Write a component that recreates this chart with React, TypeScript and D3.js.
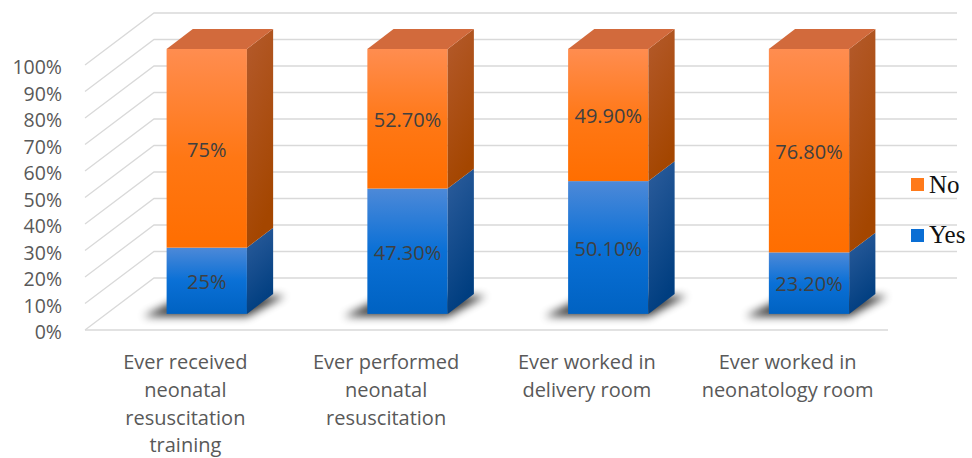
import React from "react";
import * as d3 from "d3";

const categories = [
  ["Ever received", "neonatal", "resuscitation", "training"],
  ["Ever performed", "neonatal", "resuscitation"],
  ["Ever worked in", "delivery room"],
  ["Ever worked in", "neonatology room"],
];
const yesValues = [0.25, 0.473, 0.501, 0.232];
const noValues = [0.75, 0.527, 0.499, 0.768];
const yesLabels = ["25%", "47.30%", "50.10%", "23.20%"];
const noLabels = ["75%", "52.70%", "49.90%", "76.80%"];
const yTicks = [0, 0.1, 0.2, 0.3, 0.4, 0.5, 0.6, 0.7, 0.8, 0.9, 1];
const seriesNames = ["No", "Yes"];

const W = 972;
const H = 458;
const DX = 69;
const DY = -52;
const D0 = 0.31;
const D1 = 0.69;

export default function App() {
  const x = d3
    .scaleBand<number>()
    .domain(d3.range(categories.length))
    .range([85, 888])
    .paddingInner(0.6)
    .paddingOuter(0.3);
  const y = d3.scaleLinear().domain([0, 1]).range([330, 65]);
  const bw = x.bandwidth();
  const P = (px: number, v: number, d: number): [number, number] => [px + d * DX, y(v) + d * DY];
  const poly = (pts: [number, number][]) => pts.map((p) => p.join(",")).join(" ");
  const pct = d3.format(".0%");
  const font = "'Open Sans', sans-serif";

  return (
    <svg width={W} height={H} style={{ display: "block", position: "absolute", left: 0, top: 0 }}>
      <defs>
        <linearGradient id="oFront" x1="0" y1="0" x2="0" y2="1">
          <stop offset="0" stopColor="#FF8D50" />
          <stop offset="0.55" stopColor="#FF7714" />
          <stop offset="1" stopColor="#FF6E00" />
        </linearGradient>
        <linearGradient id="bFront" x1="0" y1="0" x2="0" y2="1">
          <stop offset="0" stopColor="#4D89D8" />
          <stop offset="0.5" stopColor="#0A70D6" />
          <stop offset="1" stopColor="#0062C2" />
        </linearGradient>
        <linearGradient id="oSide" x1="0" y1="0" x2="0.3" y2="1">
          <stop offset="0" stopColor="#B45A2C" />
          <stop offset="1" stopColor="#A44600" />
        </linearGradient>
        <linearGradient id="bSide" x1="0" y1="0" x2="0.3" y2="1">
          <stop offset="0" stopColor="#2D5D9C" />
          <stop offset="1" stopColor="#003E80" />
        </linearGradient>
        <filter id="blur" x="-30%" y="-50%" width="160%" height="200%">
          <feGaussianBlur stdDeviation="4" />
        </filter>
      </defs>

      {/* gridlines */}
      {yTicks.map((t) => {
        const a = P(85, t, 0);
        const b = P(85, t, 1);
        const c = P(888, t, 1);
        return (
          <polyline
            key={t}
            points={poly([a, b, c])}
            fill="none"
            stroke="#D9D9D9"
            strokeWidth={1.3}
          />
        );
      })}
      <line x1={85} x2={888} y1={y(0)} y2={y(0)} stroke="#D9D9D9" strokeWidth={1.3} />

      {/* y axis labels */}
      {yTicks.map((t) => (
        <text
          key={t}
          x={62}
          y={y(t) + 4}
          textAnchor="end"
          dominantBaseline="middle"
          fontFamily={font}
          fontSize={19.5}
          fill="#595959"
        >
          {pct(t)}
        </text>
      ))}

      {/* bars */}
      {categories.map((_, i) => {
        const bx = x(i)!;
        const xl = bx;
        const xr = bx + bw;
        const segs = [
          { v0: 0, v1: yesValues[i], front: "url(#bFront)", side: "url(#bSide)", label: yesLabels[i] },
          { v0: yesValues[i], v1: yesValues[i] + noValues[i], front: "url(#oFront)", side: "url(#oSide)", label: noLabels[i] },
        ];
        const top = yesValues[i] + noValues[i];
        return (
          <g key={i}>
            <polygon
              points={poly([P(xl - 20, 0, 0.26), P(xr + 4, 0, 0.26), P(xr + 14, 0, 0.66), P(xl - 6, 0, 0.66)])}
              fill="#000"
              opacity={0.75}
              filter="url(#blur)"
            />
            {segs.map((s, k) => {
              const f0 = P(xl, s.v1, D0);
              const f1 = P(xr, s.v0, D0);
              return (
                <g key={k}>
                  <rect x={f0[0]} y={f0[1]} width={f1[0] - f0[0]} height={f1[1] - f0[1]} fill={s.front} />
                  <polygon
                    points={poly([P(xr, s.v0, D0), P(xr, s.v1, D0), P(xr, s.v1, D1), P(xr, s.v0, D1)])}
                    fill={s.side}
                  />
                </g>
              );
            })}
            <polygon
              points={poly([P(xl, top, D0), P(xr, top, D0), P(xr, top, D1), P(xl, top, D1)])}
              fill="#D26A3C"
            />
            {segs.map((s, k) => {
              const c = P(xl + bw / 2, (s.v0 + s.v1) / 2, D0);
              return (
                <text
                  key={"t" + k}
                  x={c[0]}
                  y={c[1] + 3}
                  textAnchor="middle"
                  dominantBaseline="middle"
                  fontFamily={font}
                  fontSize={20}
                  fill="#404040"
                >
                  {s.label}
                </text>
              );
            })}
          </g>
        );
      })}

      {/* category labels */}
      {categories.map((lines, i) => (
        <text
          key={i}
          x={x(i)! + bw / 2}
          textAnchor="middle"
          fontFamily={font}
          fontSize={20}
          fill="#595959"
        >
          {lines.map((ln, j) => (
            <tspan key={j} x={x(i)! + bw / 2} y={369 + j * 27.8}>
              {ln}
            </tspan>
          ))}
        </text>
      ))}

      {/* legend */}
      {seriesNames.map((n, k) => (
        <g key={n}>
          <rect x={911} y={178 + k * 51} width={13} height={13} fill={k === 0 ? "#FF7A1A" : "#0A6ED4"} />
          <text x={929} y={193 + k * 50} fontFamily="'Liberation Serif', serif" fontSize={25} fill="#111">
            {n}
          </text>
        </g>
      ))}
    </svg>
  );
}
